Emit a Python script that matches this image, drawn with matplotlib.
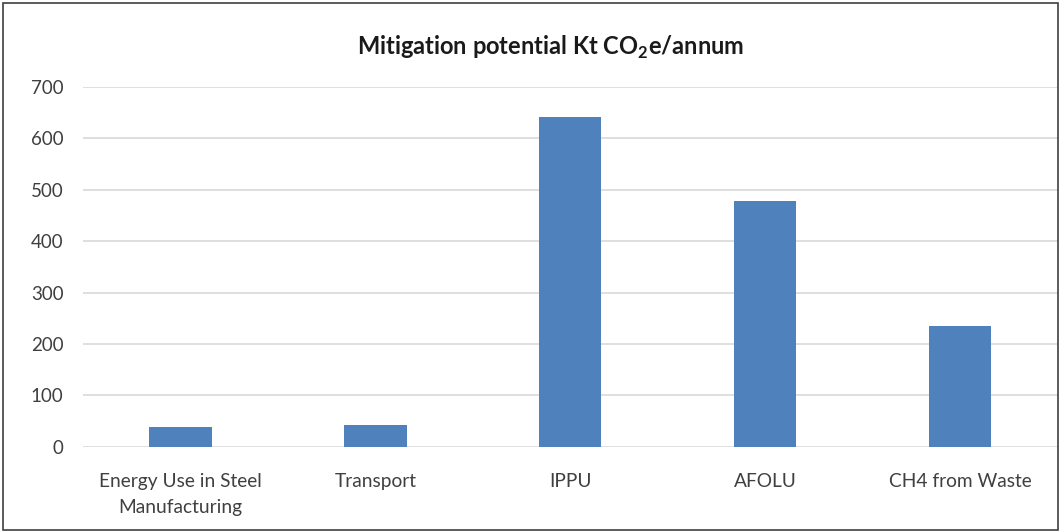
import matplotlib
matplotlib.use("Agg")
import matplotlib.pyplot as plt
from matplotlib.patches import Rectangle

categories = ["Energy Use in Steel\nManufacturing", "Transport", "IPPU", "AFOLU", "CH4 from Waste"]
values = [38, 42, 642, 479, 236]
y_ticks = [0, 100, 200, 300, 400, 500, 600, 700]

plt.rcParams["font.family"] = ["Lato", "DejaVu Sans"]
plt.rcParams["mathtext.fontset"] = "custom"
plt.rcParams["mathtext.rm"] = "Lato"
plt.rcParams["mathtext.bf"] = "Lato:bold"

fig = plt.figure(figsize=(10.62, 5.32), dpi=100)
ax = fig.add_axes([0.078, 0.16, 0.918, 0.6765])

x = range(len(categories))
ax.bar(x, values, width=0.32, color="#4f81bd", zorder=3)

ax.set_xlim(-0.5, len(categories) - 0.5)
ax.set_ylim(0, 700)
ax.set_yticks(y_ticks)
ax.set_xticks(list(x))
ax.set_xticklabels(categories, linespacing=1.65)
ax.grid(axis="y", color="#d9d9d9", linewidth=1.2, zorder=0)
for s in ax.spines.values():
    s.set_visible(False)
ax.tick_params(axis="y", length=0, pad=14, labelsize=13.5, labelcolor="#404040")
ax.tick_params(axis="x", length=0, pad=19, labelsize=13.8, labelcolor="#404040")

fig.text(0.518, 0.91, r"Mitigation potential Kt CO$_\mathbf{2}$e/annum",
         ha="center", va="center", fontsize=17, fontweight="bold", color="#1a1a1a")

fig.patches.append(Rectangle((0.003, 0.004), 0.993, 0.99, transform=fig.transFigure,
                             fill=False, edgecolor="#404040", linewidth=1.2))

fig.savefig("out.png", dpi=100)
